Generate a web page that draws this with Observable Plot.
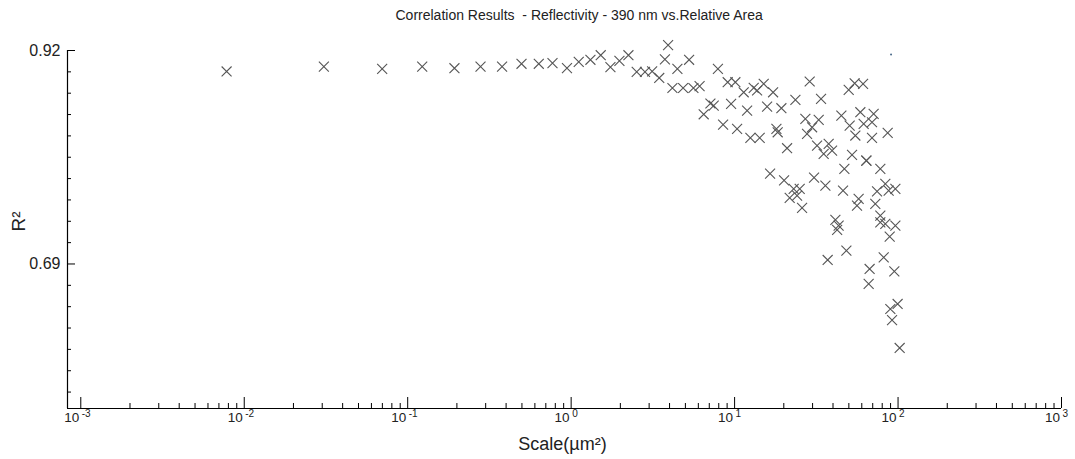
<!DOCTYPE html>
<html><head><meta charset="utf-8">
<script src="https://cdn.jsdelivr.net/npm/d3@7"></script>
<script src="https://cdn.jsdelivr.net/npm/@observablehq/plot@0.6"></script>
<style>
html,body{margin:0;padding:0;background:#fff;}
#chart svg{display:block;}
</style></head><body><div id="chart"></div>
<script>
const title = "Correlation Results\u00a0\u00a0- Reflectivity - 390 nm vs.Relative Area";
const xLabel = "Scale(µm²)";
const yLabel = "R²";

const scaleUm2 = [0.0078,0.0307,0.0698,0.1227,0.1932,0.279,0.378,0.497,0.634,0.769,0.943,1.113,1.312,1.517,1.739,1.974,2.241,2.518,2.83,3.13,3.459,3.919,3.747,4.467,5.269,4.165,4.842,5.598,6.107,7.906,7.112,7.449,6.471,9.52,8.506,10.36,9.074,10.11,11.37,13.09,13.73,15.07,17.2,28.8,23.55,33.8,11.93,15.81,19.33,12.49,14.24,18.02,18.35,20.95,27.1,32.7,29.8,27.76,31.96,35.07,37.63,39.48,49.9,54.28,61.1,45.0,50.58,58.8,70.9,61.6,69.3,54.8,69.3,86.4,52.3,64.0,64.0,77.9,46.95,16.49,20.08,30.63,22.98,25.02,21.73,24.12,25.87,35.93,46.08,57.4,56.1,74.4,83.6,87.6,96.3,72.6,41.36,43.3,42.4,77.9,77.9,83.6,96.3,88.9,48.3,37.1,81.7,67.0,94.9,66.1,99.4,89.7,91.9,102.3];
const rSquared = [0.8974,0.9027,0.9003,0.9027,0.9009,0.9027,0.9027,0.9057,0.9057,0.9063,0.9011,0.9078,0.910,0.9149,0.902,0.9089,0.9149,0.897,0.897,0.8976,0.8904,0.9257,0.9105,0.9003,0.910,0.8796,0.8796,0.8796,0.8817,0.9003,0.8629,0.8607,0.8513,0.8625,0.8402,0.8356,0.8858,0.8858,0.875,0.8798,0.8769,0.8841,0.875,0.8866,0.8668,0.8679,0.8553,0.8596,0.8578,0.8259,0.8259,0.8356,0.8319,0.8147,0.8464,0.8453,0.8373,0.8302,0.8176,0.8086,0.8194,0.8122,0.8776,0.8847,0.8841,0.8499,0.8391,0.8535,0.8518,0.841,0.8427,0.8284,0.8259,0.8313,0.8075,0.8014,0.8014,0.7925,0.7925,0.7874,0.780,0.7831,0.7709,0.7709,0.7612,0.7637,0.7504,0.7744,0.769,0.7601,0.7529,0.7683,0.7763,0.769,0.7709,0.7547,0.7375,0.7313,0.7267,0.7421,0.7349,0.7332,0.7313,0.7195,0.7044,0.6943,0.6971,0.6846,0.682,0.6685,0.6469,0.6415,0.6296,0.5995];

const markerX = [90.6];
const markerY = [0.9157];

const yMajorTicks = [0.92, 0.69];
const yMinorTicks = [0.897,0.874,0.851,0.828,0.805,0.782,0.759,0.736,0.713,0.667,0.644,0.621,0.598,0.575,0.552];
const xMajorExponents = [-3,-2,-1,0,1,2,3];
const xMinorMultipliers = [2,3,4,5,6,7,8,9];

const xDomain = [Math.pow(10,-3.0813), 1000];
const yDomain = [0.5343, 0.92];

const FONT = '"Liberation Sans",Arial,sans-serif';
const W = 1075, H = 459, ML = 67, MR = 14, MT = 50, MB = 51;
const FW = W - ML - MR, FH = H - MT - MB;

const points = scaleUm2.map((x, i) => ({x, y: rSquared[i]}));
const marker = markerX.map((x, i) => ({x, y: markerY[i]}));
const xMajor = xMajorExponents.map(e => ({v: Math.pow(10, e), e}));
const xMinor = xMajorExponents.slice(0, -1).flatMap(e => xMinorMultipliers.map(m => m * Math.pow(10, e)));

const chart = Plot.plot({
  width: W, height: H,
  marginLeft: ML, marginRight: MR, marginTop: MT, marginBottom: MB,
  x: {type: "log", domain: xDomain, axis: null},
  y: {domain: yDomain, axis: null},
  style: {fontFamily: FONT, color: "#222", background: "#fff", overflow: "visible"},
  marks: [
    Plot.ruleY([yDomain[0]], {stroke: "#000", strokeWidth: 1.2}),
    Plot.ruleX([xDomain[0]], {stroke: "#000", strokeWidth: 1.2}),
    Plot.ruleX(xMajor, {x: "v", insetTop: FH - 11, stroke: "#000"}),
    Plot.ruleX(xMinor, {insetTop: FH - 5, stroke: "#000"}),
    Plot.ruleY(yMajorTicks, {insetRight: FW - 8, stroke: "#000"}),
    Plot.ruleY(yMinorTicks, {insetRight: FW - 4, stroke: "#000"}),
    Plot.text(yMajorTicks, {y: d => d, text: d => d.toFixed(2), frameAnchor: "left", dx: -7, textAnchor: "end", lineAnchor: "middle", fontSize: 16, fill: "#222"}),
    Plot.text(xMajor, {x: "v", text: () => "10", frameAnchor: "bottom", dy: 13.5, lineAnchor: "bottom", textAnchor: "end", dx: -1.5, fontSize: 13.5, fill: "#222"}),
    Plot.text(xMajor, {x: "v", text: d => String(d.e), frameAnchor: "bottom", dy: 8.5, lineAnchor: "bottom", textAnchor: "start", dx: 1, fontSize: 10, fill: "#222"}),
    Plot.dot(points, {x: "x", y: "y", symbol: "times", r: 4.6, stroke: "#555", strokeWidth: 1.1}),
    Plot.dot(marker, {x: "x", y: "y", r: 1, fill: "#4a6a8a", stroke: null}),
    Plot.text([title], {text: d => d, frameAnchor: "top-left", dx: 395 - ML, dy: 19.3 - MT, textAnchor: "start", lineAnchor: "bottom", fontSize: 14, fill: "#222"}),
    Plot.text([xLabel], {text: d => d, frameAnchor: "bottom-left", dx: 562 - ML, dy: 449 - (H - MB), lineAnchor: "bottom", textAnchor: "middle", fontSize: 18, fill: "#222"}),
    Plot.text([yLabel], {text: d => d, frameAnchor: "left", dx: 18 - ML, dy: 221 - (MT + FH / 2), rotate: -90, textAnchor: "middle", lineAnchor: "middle", fontSize: 19, fill: "#222"})
  ]
});
document.getElementById("chart").appendChild(chart);
</script>
</body></html>
